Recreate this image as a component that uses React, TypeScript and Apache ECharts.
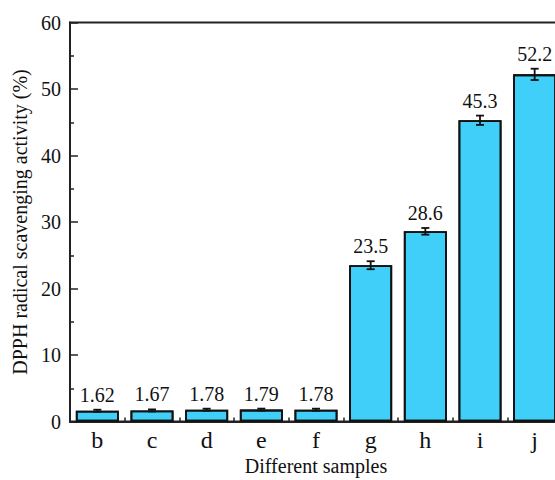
import React, { useEffect, useRef } from "react";
import * as echarts from "echarts";

const categories = ["b", "c", "d", "e", "f", "g", "h", "i", "j"];
const values = [1.62, 1.67, 1.78, 1.79, 1.78, 23.5, 28.6, 45.3, 52.2];
const errors = [0.15, 0.15, 0.15, 0.15, 0.15, 0.6, 0.5, 0.7, 0.85];
const valueLabels = ["1.62", "1.67", "1.78", "1.79", "1.78", "23.5", "28.6", "45.3", "52.2"];
const yTicks = [0, 10, 20, 30, 40, 50, 60];

const FONT = "Liberation Serif";

export default function App() {
  const ref = useRef<HTMLDivElement>(null);
  useEffect(() => {
    if (!ref.current) return;
    const chart = echarts.init(ref.current, null, { renderer: "svg" });
    const errData = categories.map((c, i) => [i, values[i] - errors[i], values[i] + errors[i], i]);
    chart.setOption({
      animation: false,
      backgroundColor: "#ffffff",
      textStyle: { fontFamily: FONT },
      grid: {
        left: 70,
        top: 22.5,
        width: 492,
        height: 399,
        outerBoundsMode: "none",
        containLabel: false,
        show: true,
        borderColor: "#222",
        borderWidth: 2,
        backgroundColor: "transparent",
      },
      xAxis: {
        type: "category",
        data: categories,
        name: "Different samples",
        nameLocation: "middle",
        nameGap: 33,
        nameTextStyle: { fontFamily: FONT, fontSize: 20, color: "#111" },
        axisLine: { lineStyle: { color: "#222", width: 2 } },
        axisTick: { show: true, inside: true, length: 4, lineStyle: { color: "#222", width: 1.5 } },
        axisLabel: { fontFamily: FONT, fontSize: 24, color: "#111", margin: 6 },
      },
      yAxis: {
        type: "value",
        min: 0,
        max: 60,
        interval: 10,
        name: "DPPH radical scavenging activity (%)",
        nameLocation: "middle",
        nameGap: 36,
        nameTextStyle: { fontFamily: FONT, fontSize: 20, color: "#111" },
        axisLine: { show: true, lineStyle: { color: "#222", width: 2 } },
        axisTick: { show: true, inside: true, length: 8, lineStyle: { color: "#222", width: 1.5 } },
        minorTick: { show: true, splitNumber: 2, length: 4, lineStyle: { color: "#222", width: 1.5 } },
        splitLine: { show: false },
        axisLabel: {
          fontFamily: FONT,
          fontSize: 20,
          color: "#111",
          margin: 9,
          formatter: (v: number) => (yTicks.includes(v) ? String(v) : ""),
        },
      },
      series: [
        {
          type: "bar",
          data: values,
          barWidth: 43,
          itemStyle: {
            color: "#3fcff8",
            borderColor: "#111",
            borderWidth: 1.8,
            decal: {
              symbol: "rect",
              symbolSize: 0.25,
              color: "rgba(20,90,150,0.35)",
              dashArrayX: [[1, 6]],
              dashArrayY: [1, 6],
              rotation: 0,
            },
          },
        },
        {
          type: "custom",
          data: errData,
          z: 10,
          renderItem: (params: any, api: any) => {
            const x = api.value(0);
            const lo = api.coord([x, api.value(1)]);
            const hi = api.coord([x, api.value(2)]);
            const idx = api.value(3);
            const cx = lo[0];
            const cap = 4;
            const st = { stroke: "#111", lineWidth: 1.8 };
            return {
              type: "group",
              children: [
                { type: "line", shape: { x1: cx, y1: lo[1], x2: cx, y2: hi[1] }, style: st },
                { type: "line", shape: { x1: cx - cap, y1: lo[1], x2: cx + cap, y2: lo[1] }, style: st },
                { type: "line", shape: { x1: cx - cap, y1: hi[1], x2: cx + cap, y2: hi[1] }, style: st },
                {
                  type: "text",
                  style: {
                    text: valueLabels[idx],
                    x: cx,
                    y: hi[1] - 5,
                    align: "center",
                    verticalAlign: "bottom",
                    fontFamily: FONT,
                    fontSize: 20,
                    fill: "#111",
                  },
                },
              ],
            };
          },
        },
      ],
    });
    return () => chart.dispose();
  }, []);
  return <div ref={ref} style={{ width: 555, height: 480, position: "absolute", left: 0, top: 0 }} />;
}
